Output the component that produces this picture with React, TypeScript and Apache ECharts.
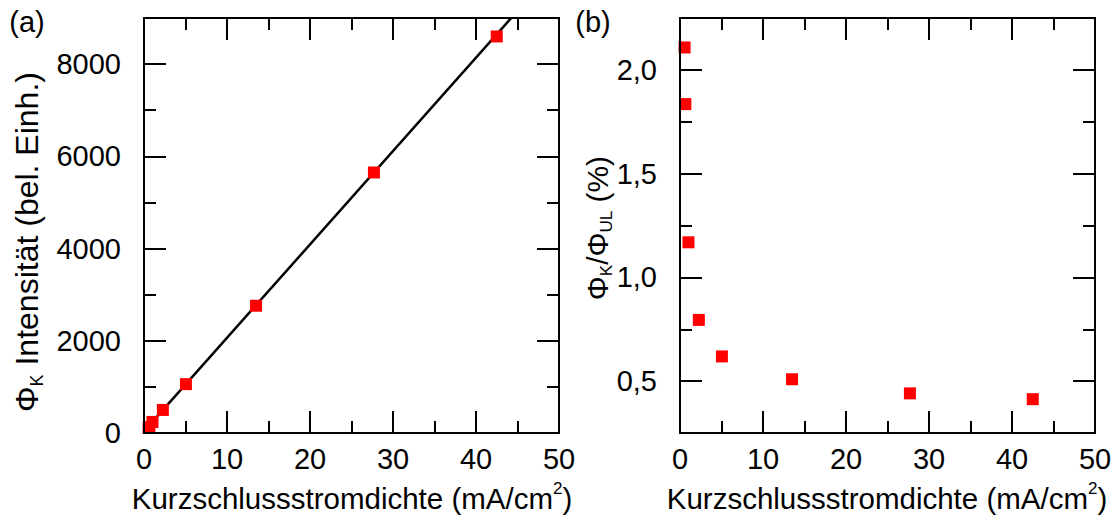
import React, { useEffect, useRef } from "react";
import * as echarts from "echarts";

// Short-circuit current density (mA/cm²) of each measurement
const currentDensity = [0.55, 0.65, 1.02, 2.27, 5.05, 13.5, 27.7, 42.5];
// Φ_K intensity (arbitrary units)
const intensityK = [110, 130, 240, 500, 1060, 2760, 5650, 8600];
// Φ_K / Φ_UL ratio (%)
const ratioPercent = [2.108, 1.835, 1.169, 0.795, 0.619, 0.509, 0.441, 0.413];
// Linear fit through the intensity data (end points)
const fitLine = [
  [0.55, 150],
  [44.25, 9000],
];

const xTickValues = [0, 10, 20, 30, 40, 50];
const intensityTicks = [0, 2000, 4000, 6000, 8000];
const ratioTicks = [0.5, 1.0, 1.5, 2.0];

const FONT = "Liberation Sans";
const BLACK = "#000";
const RED = "#ff0000";
const TICK_FS = 29;

const lineStyle = { color: BLACK, width: 2 };
const tickRich = { t: { fontSize: TICK_FS, fontFamily: FONT, color: BLACK, lineHeight: TICK_FS + 4 } };

function xAxes(gridIndex: number) {
  const base = {
    type: "value",
    gridIndex,
    min: xTickValues[0],
    max: xTickValues[xTickValues.length - 1],
    interval: 10,
    z: 5,
    splitLine: { show: false },
    minorSplitLine: { show: false },
    axisLine: { show: true, onZero: false, lineStyle },
    axisTick: { show: true, inside: true, length: 22, lineStyle },
    minorTick: { show: true, splitNumber: 2, length: 12, lineStyle },
  };
  return [
    {
      ...base,
      position: "bottom",
      axisLabel: {
        show: true,
        margin: 9,
        color: BLACK,
        fontSize: TICK_FS,
        fontFamily: FONT,
        showMinLabel: true,
        showMaxLabel: true,
        formatter: (v: number) => `{t|${v}}`,
        rich: tickRich,
      },
    },
    { ...base, position: "top", axisLabel: { show: false } },
  ];
}

// Near-equality check for tick values
const isMajor = (v: number, majors: number[]) => majors.some((m) => Math.abs(m - v) < 1e-6);

function yAxes(
  gridIndex: number,
  min: number,
  max: number,
  majors: number[],
  minorStep: number,
  fmt: (v: number) => string
) {
  // long ticks at the labelled values
  const major = {
    type: "value",
    gridIndex,
    min,
    max,
    z: 5,
    splitLine: { show: false },
    axisLine: { show: true, onZero: false, lineStyle },
    axisTick: { show: true, inside: true, length: 22, lineStyle, customValues: majors },
    axisLabel: { show: false },
  };
  // short ticks at every step; labels only at the major values
  const minor = {
    type: "value",
    gridIndex,
    min,
    max,
    interval: minorStep,
    z: 5,
    splitLine: { show: false },
    axisLine: { show: true, onZero: false, lineStyle },
    axisTick: { show: true, inside: true, length: 12, lineStyle },
  };
  return [
    { ...major, position: "left" },
    {
      ...minor,
      position: "left",
      axisLabel: {
        show: true,
        margin: 23,
        color: BLACK,
        fontSize: TICK_FS,
        fontFamily: FONT,
        showMinLabel: true,
        showMaxLabel: true,
        hideOverlap: false,
        formatter: (v: number) => (isMajor(v, majors) ? `{t|${fmt(v)}}` : ""),
        rich: tickRich,
      },
    },
    { ...major, position: "right" },
    { ...minor, position: "right", axisLabel: { show: false } },
  ];
}

function richStyles(fs: number, subFs: number) {
  return {
    base: { fontSize: fs, fontFamily: FONT, color: BLACK, lineHeight: fs + 6 },
    sub: { fontSize: subFs, fontFamily: FONT, color: BLACK, lineHeight: subFs, verticalAlign: "bottom" },
    sup: { fontSize: subFs, fontFamily: FONT, color: BLACK, lineHeight: subFs, verticalAlign: "top" },
  };
}

function label(x: number, y: number, text: string, fs: number, subFs: number, rotation = 0) {
  return {
    type: "text",
    x,
    y,
    rotation,
    z: 10,
    style: {
      text,
      rich: richStyles(fs, subFs),
      font: `${fs}px ${FONT}`,
      fill: BLACK,
      align: "center",
      verticalAlign: "middle",
    },
  };
}

const xTitle = "{base|Kurzschlussstromdichte (mA/cm}{sup|2}{base|)}";

const option = {
  animation: false,
  backgroundColor: "#fff",
  textStyle: { fontFamily: FONT, fontSize: TICK_FS },
  grid: [
    { left: 144, top: 18, width: 415, height: 415, containLabel: false },
    { left: 680, top: 18, width: 415, height: 415, containLabel: false },
  ],
  xAxis: [...xAxes(0), ...xAxes(1)],
  yAxis: [
    ...yAxes(0, 0, 9000, intensityTicks, 1000, (v: number) => String(v)),
    ...yAxes(1, 0.25, 2.25, ratioTicks, 0.25, (v: number) => v.toFixed(1).replace(".", ",")),
  ],
  series: [
    {
      type: "line",
      xAxisIndex: 0,
      yAxisIndex: 0,
      data: fitLine,
      symbol: "none",
      z: 1,
      lineStyle: { color: BLACK, width: 2.5 },
    },
    {
      type: "scatter",
      xAxisIndex: 0,
      yAxisIndex: 0,
      data: currentDensity.map((x, i) => [x, intensityK[i]]),
      symbol: "rect",
      symbolSize: 12,
      z: 2,
      itemStyle: { color: RED, opacity: 1 },
    },
    {
      type: "scatter",
      xAxisIndex: 2,
      yAxisIndex: 4,
      data: currentDensity.map((x, i) => [x, ratioPercent[i]]),
      symbol: "rect",
      symbolSize: 12,
      z: 2,
      itemStyle: { color: RED, opacity: 1 },
    },
  ],
  graphic: [
    label(27, 22, "{base|(a)}", 29, 17),
    label(593, 22, "{base|(b)}", 29, 17),
    label(352, 498, xTitle, 29.5, 17),
    label(887, 498, xTitle, 29.5, 17),
    label(27, 242, "{base|Φ}{sub|K}{base| Intensität (bel. Einh.)}", 32, 18, Math.PI / 2),
    label(597, 228, "{base|Φ}{sub|K}{base|/Φ}{sub|UL}{base| (%)}", 30, 17, Math.PI / 2),
  ],
};

export default function App() {
  const ref = useRef<HTMLDivElement>(null);
  useEffect(() => {
    if (!ref.current) return;
    const chart = echarts.init(ref.current, null, { renderer: "svg" });
    chart.setOption(option as any);
    return () => chart.dispose();
  }, []);
  return (
    <div
      ref={ref}
      style={{ position: "fixed", left: 0, top: 0, width: 1116, height: 518, background: "#fff" }}
    />
  );
}
